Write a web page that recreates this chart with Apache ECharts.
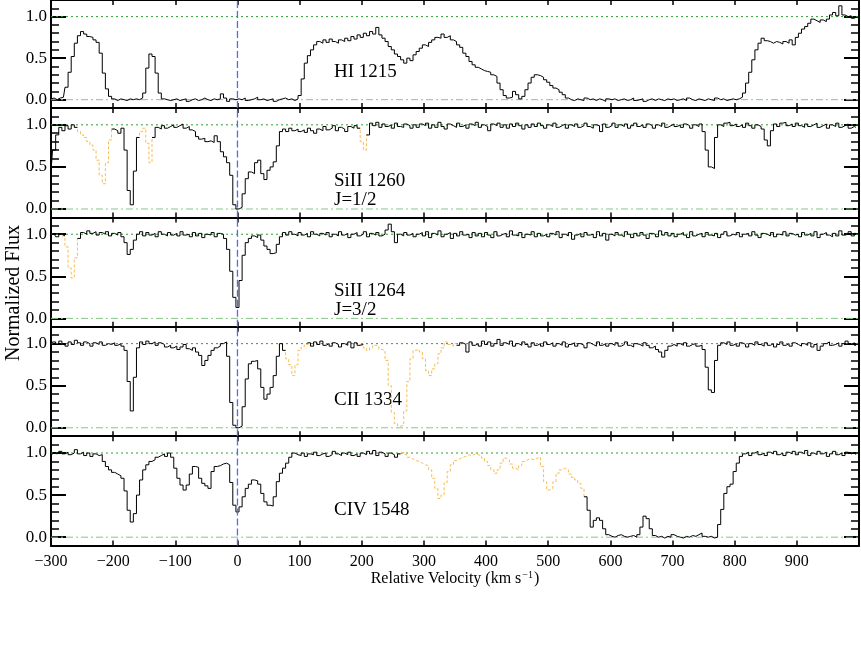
<!DOCTYPE html>
<html>
<head>
<meta charset="utf-8">
<script src="https://cdn.jsdelivr.net/npm/echarts@6/dist/echarts.min.js"></script>
<style>
  html, body { margin: 0; padding: 0; background: #fff; }
  #chart { width: 861px; height: 654px; }
</style>
</head>
<body>
<div id="chart"></div>
<script>
// velocity grid, km/s (5 km/s bins from -300)
const vel = []
for (let v = -300; v < 1000; v += 5) vel.push(v)

const yMajor = [0, 0.5, 1]
const yMinor = [-0.1, 0, 0.1, 0.2, 0.3, 0.4, 0.5, 0.6, 0.7, 0.8, 0.9, 1, 1.1, 1.2]

const panelNames = ['HI 1215', 'SiII 1260\nJ=1/2', 'SiII 1264\nJ=3/2', 'CII 1334', 'CIV 1548']

const fluxHI = [
  0.01, 0.02, 0.00, 0.02, 0.03, 0.15, 0.33, 0.52, 0.68, 0.77, 0.82, 0.79, 0.76, 0.75, 0.72, 0.69, 0.56, 0.32, 0.13, 0.04,
  0.01, -0.01, 0.01, 0.00, -0.01, 0.01, 0.00, 0.01, 0.00, 0.02, 0.08, 0.38, 0.55, 0.52, 0.32, 0.08, 0.01, 0.00, -0.01, 0.00,
  0.01, -0.01, 0.00, 0.01, -0.02, 0.00, 0.01, -0.01, 0.00, 0.02, 0.00, -0.01, 0.01, 0.00, 0.01, 0.07, 0.02, -0.02, 0.01, 0.00,
  0.01, 0.00, 0.02, -0.01, 0.00, 0.01, 0.03, 0.00, 0.01, -0.01, 0.00, 0.01, -0.02, 0.00, 0.01, 0.02, 0.00, 0.01, -0.01, 0.01,
  0.05, 0.25, 0.44, 0.53, 0.60, 0.66, 0.70, 0.68, 0.72, 0.69, 0.73, 0.70, 0.68, 0.72, 0.70, 0.74, 0.71, 0.76, 0.73, 0.78,
  0.75, 0.80, 0.77, 0.82, 0.79, 0.87, 0.78, 0.74, 0.70, 0.64, 0.60, 0.55, 0.52, 0.48, 0.44, 0.50, 0.47, 0.54, 0.58, 0.62,
  0.66, 0.64, 0.69, 0.72, 0.75, 0.74, 0.79, 0.75, 0.77, 0.72, 0.70, 0.66, 0.63, 0.56, 0.52, 0.46, 0.42, 0.39, 0.37, 0.35,
  0.34, 0.33, 0.30, 0.28, 0.20, 0.12, 0.05, 0.02, 0.03, 0.10, 0.06, 0.01, 0.04, 0.12, 0.20, 0.27, 0.30, 0.29, 0.27, 0.24,
  0.21, 0.17, 0.14, 0.12, 0.09, 0.06, 0.02, 0.00, -0.01, 0.01, 0.00, -0.01, 0.02, 0.00, 0.01, -0.01, 0.01, 0.00, -0.02, 0.01,
  0.00, 0.01, -0.01, 0.00, 0.01, -0.01, 0.00, 0.02, -0.01, 0.00, 0.01, -0.02, 0.00, 0.01, -0.01, 0.01, 0.00, -0.01, 0.01, 0.00,
  0.01, -0.01, 0.00, 0.01, -0.01, 0.02, 0.00, -0.01, 0.01, 0.00, -0.01, 0.01, 0.00, -0.01, 0.02, 0.00, 0.01, -0.01, 0.00, 0.01,
  0.00, 0.01, 0.03, 0.08, 0.20, 0.33, 0.48, 0.60, 0.68, 0.74, 0.71, 0.70, 0.68, 0.70, 0.69, 0.67, 0.70, 0.68, 0.72, 0.66,
  0.75, 0.80, 0.85, 0.88, 0.92, 0.97, 0.95, 0.93, 0.96, 0.94, 0.97, 1.02, 1.05, 1.01, 1.13, 1.02, 1.00, 1.01, 0.98, 0.99
]

const fluxSi1260 = [
  0.45, 0.70, 0.88, 0.97, 0.93, 0.99, 0.95, 1.00, 0.97, 0.92, 0.88, 0.85, 0.80, 0.76, 0.70, 0.58, 0.40, 0.30, 0.55, 0.82,
  0.95, 0.93, 0.90, 0.96, 0.70, 0.22, 0.05, 0.45, 0.85, 0.92, 0.96, 0.78, 0.55, 0.85, 0.97, 0.95, 0.99, 0.96, 0.98, 1.00,
  0.97, 0.99, 1.01, 0.96, 0.98, 0.94, 0.92, 0.86, 0.83, 0.84, 0.80, 0.81, 0.79, 0.87, 0.80, 0.68, 0.62, 0.55, 0.40, 0.05,
  0.00, 0.02, 0.18, 0.36, 0.44, 0.42, 0.55, 0.58, 0.42, 0.35, 0.46, 0.50, 0.56, 0.75, 0.92, 0.95, 0.92, 0.96, 0.93, 0.95,
  0.92, 0.94, 0.91, 0.96, 0.93, 0.90, 0.95, 0.93, 0.98, 0.94, 0.96, 0.99, 0.93, 0.97, 0.95, 0.92, 0.98, 0.96, 0.99, 0.96,
  0.80, 0.70, 0.88, 1.02, 0.99, 1.03, 0.97, 1.01, 0.98, 1.00, 0.96, 1.02, 0.98, 0.97, 1.01, 0.99, 0.96, 1.00, 0.97, 1.01,
  0.99, 1.02, 0.96, 1.00, 0.97, 1.03, 0.98, 0.95, 1.01, 0.99, 0.97, 1.02, 0.98, 1.00, 0.96, 1.01, 0.99, 1.03, 0.97, 1.00,
  0.98, 0.93, 1.01, 0.99, 1.02, 0.97, 1.00, 0.96, 1.01, 0.98, 1.02, 0.99, 0.95, 1.00, 0.97, 1.01, 0.98, 1.02, 0.99, 0.96,
  1.00, 0.98, 1.02, 0.97, 0.99, 1.01, 0.96, 1.00, 0.98, 1.01, 0.97, 0.99, 1.02, 0.98, 0.96, 1.00, 0.99, 0.92, 1.01, 0.97,
  0.99, 1.02, 0.97, 1.00, 0.98, 1.01, 0.96, 0.99, 1.02, 0.98, 1.00, 0.97, 1.01, 0.99, 0.96, 1.00, 0.98, 1.02, 0.97, 0.99,
  1.01, 0.98, 1.00, 0.97, 1.01, 0.99, 0.96, 1.00, 0.98, 1.01, 0.92, 0.70, 0.50, 0.48, 0.85, 1.00, 0.98, 1.02, 1.03, 0.99,
  1.01, 0.98, 1.00, 0.97, 1.02, 0.99, 0.96, 1.00, 0.98, 0.95, 0.82, 0.75, 0.93, 1.01, 0.98, 1.02, 1.03, 0.99, 1.01, 0.98,
  1.02, 0.99, 0.97, 1.01, 0.98, 1.00, 1.02, 0.97, 0.99, 1.01, 0.96, 1.00, 0.98, 1.02, 0.97, 0.99, 1.01, 0.96, 0.98, 0.97
]

const fluxSi1264 = [
  0.99, 1.01, 0.97, 1.00, 0.98, 0.85, 0.60, 0.48, 0.72, 0.95, 1.02, 1.00, 1.04, 1.01, 1.03, 0.99, 1.02, 1.00, 1.03, 0.98,
  1.01, 0.99, 1.02, 0.97, 0.90, 0.76, 0.82, 0.93, 1.00, 1.03, 0.98, 1.02, 0.99, 1.01, 0.97, 1.03, 1.00, 0.98, 1.02, 0.99,
  1.01, 0.98, 1.03, 0.99, 1.00, 0.97, 1.02, 0.98, 1.01, 0.96, 1.00, 0.99, 1.02, 0.97, 1.01, 1.00, 0.95, 0.82, 0.56, 0.25,
  0.13, 0.45, 0.75, 0.90, 0.95, 0.98, 0.96, 0.99, 0.93, 0.86, 0.82, 0.77, 0.78, 0.88, 0.97, 1.02, 0.99, 1.03, 1.00, 0.98,
  1.02, 0.99, 1.01, 0.97, 1.03, 1.00, 0.98, 1.01, 0.99, 1.02, 0.97, 1.00, 0.98, 1.03, 0.99, 1.01, 0.96, 1.00, 1.02, 0.98,
  1.00, 1.03, 0.97, 1.01, 0.99, 1.02, 0.98, 1.00, 1.05, 1.12, 1.03, 0.90, 1.00, 0.98, 1.02, 0.99, 1.01, 0.97, 1.00, 1.02,
  0.98, 1.03, 0.96, 1.01, 0.99, 1.04, 0.97, 1.00, 1.02, 0.95, 1.01, 0.98, 1.03, 0.99, 1.00, 0.96, 1.02, 0.98, 1.01, 0.97,
  1.02, 0.99, 0.96, 1.03, 0.98, 1.00, 1.01, 0.97, 1.04, 0.99, 0.98, 1.02, 0.96, 1.00, 0.99, 1.03, 0.97, 1.01, 0.98, 1.00,
  0.97, 1.01, 0.99, 1.03, 0.96, 1.00, 0.98, 1.02, 0.94, 0.99, 1.01, 0.97, 1.02, 0.99, 1.00, 0.96, 1.03, 0.98, 1.01, 0.93,
  1.00, 0.98, 1.02, 0.99, 0.97, 1.03, 1.00, 0.96, 1.01, 0.98, 1.02, 0.99, 0.95, 1.01, 1.00, 0.97, 1.04, 0.99, 1.02, 0.98,
  1.01, 0.97, 1.00, 1.02, 0.99, 0.96, 1.03, 0.98, 1.00, 1.01, 0.97, 1.02, 0.99, 0.98, 1.01, 0.96, 1.00, 1.03, 0.98, 1.00,
  0.99, 1.02, 0.97, 1.00, 1.01, 0.98, 1.03, 0.99, 0.96, 1.01, 1.00, 0.98, 1.02, 0.97, 1.00, 0.99, 1.03, 0.98, 1.01, 0.99,
  1.00, 0.97, 1.02, 0.99, 1.01, 0.98, 1.03, 0.96, 1.00, 1.02, 0.99, 0.97, 1.01, 0.98, 1.04, 0.99, 1.00, 1.03, 0.98, 1.01
]

const fluxC1334 = [
  0.98, 1.02, 0.99, 1.03, 1.00, 0.97, 1.02, 0.99, 1.04, 1.01, 0.98, 1.02, 1.00, 0.97, 1.01, 0.99, 1.02, 0.98, 1.00, 0.99,
  1.01, 0.98, 1.00, 0.97, 0.92, 0.55, 0.20, 0.60, 0.95, 1.02, 0.99, 1.03, 1.00, 1.02, 0.98, 1.01, 0.99, 0.96, 0.98, 0.95,
  0.97, 0.93, 0.96, 0.99, 0.94, 0.92, 0.95, 0.90, 0.86, 0.74, 0.80, 0.86, 0.92, 0.95, 0.97, 1.00, 1.02, 0.85, 0.30, 0.03,
  0.00, 0.02, 0.25, 0.58, 0.76, 0.79, 0.80, 0.70, 0.48, 0.34, 0.40, 0.48, 0.62, 0.85, 1.00, 0.92, 0.82, 0.75, 0.62, 0.75,
  0.92, 0.96, 0.99, 1.01, 0.97, 1.02, 0.99, 1.03, 0.98, 1.00, 0.97, 1.01, 0.99, 0.96, 1.00, 0.98, 1.02, 0.95, 1.01, 0.98,
  0.99, 0.95, 0.92, 0.95, 0.98, 0.97, 0.93, 0.92, 0.80, 0.50, 0.18, 0.05, 0.02, 0.03, 0.20, 0.55, 0.82, 0.92, 0.93, 0.90,
  0.82, 0.68, 0.62, 0.70, 0.76, 0.88, 0.95, 1.02, 0.99, 0.97, 1.00, 0.98, 1.01, 0.99, 0.90, 1.02, 0.98, 1.00, 0.97, 1.03,
  0.99, 1.02, 0.97, 1.00, 1.05, 0.98, 1.01, 0.99, 1.03, 0.97, 1.00, 0.98, 1.02, 0.99, 0.96, 1.01, 0.98, 1.00, 0.97, 1.02,
  0.99, 1.01, 0.97, 1.00, 0.98, 1.02, 0.96, 0.99, 1.01, 0.97, 1.00, 0.98, 0.95, 1.01, 0.99, 0.97, 1.02, 0.98, 1.00, 0.97,
  1.00, 0.98, 1.01, 0.97, 0.99, 1.02, 0.98, 0.96, 1.00, 0.99, 0.97, 1.01, 0.98, 0.95, 0.97, 0.93, 0.90, 0.84, 0.92, 0.97,
  0.99, 0.97, 1.00, 0.98, 1.01, 0.97, 0.99, 1.00, 0.97, 0.98, 0.93, 0.72, 0.45, 0.42, 0.80, 0.98, 1.01, 0.99, 1.02, 0.98,
  1.00, 0.97, 1.01, 0.99, 0.96, 1.00, 0.98, 1.02, 0.99, 0.97, 1.01, 0.98, 1.00, 0.96, 0.99, 1.02, 0.98, 1.00, 0.97, 1.01,
  0.99, 0.97, 1.00, 0.98, 1.01, 0.96, 0.99, 0.92, 0.97, 1.00, 1.02, 0.98, 0.99, 1.01, 0.97, 1.00, 1.03, 0.99, 1.01, 0.98
]

const fluxC1548 = [
  0.98, 1.00, 0.99, 1.02, 0.99, 1.01, 0.98, 1.00, 1.04, 0.99, 1.01, 0.97, 1.00, 0.96, 0.99, 0.97, 0.98, 0.90, 0.84, 0.80,
  0.77, 0.75, 0.73, 0.70, 0.55, 0.32, 0.18, 0.28, 0.50, 0.68, 0.80, 0.86, 0.90, 0.92, 0.95, 0.97, 0.99, 0.96, 1.00, 0.95,
  0.82, 0.70, 0.62, 0.56, 0.62, 0.75, 0.84, 0.83, 0.70, 0.64, 0.61, 0.58, 0.78, 0.84, 0.85, 0.87, 0.88, 0.86, 0.65, 0.38,
  0.30, 0.36, 0.48, 0.58, 0.63, 0.68, 0.67, 0.63, 0.52, 0.42, 0.38, 0.37, 0.48, 0.66, 0.76, 0.82, 0.88, 0.95, 1.00, 0.98,
  0.97, 1.00, 0.96, 0.99, 0.98, 1.01, 0.97, 0.99, 1.00, 0.96, 0.98, 1.02, 0.99, 0.97, 1.00, 0.98, 1.01, 0.97, 0.99, 0.96,
  1.00, 0.98, 1.02, 0.99, 1.03, 0.97, 1.01, 0.99, 0.96, 1.00, 0.98, 0.95, 0.99, 1.01, 0.98, 0.95, 0.93, 0.91, 0.90, 0.88,
  0.86, 0.85, 0.80, 0.70, 0.58, 0.46, 0.50, 0.65, 0.78, 0.86, 0.91, 0.93, 0.95, 0.96, 0.98, 0.97, 0.99, 0.98, 0.97, 0.94,
  0.90, 0.85, 0.80, 0.76, 0.80, 0.88, 0.94, 0.92, 0.87, 0.82, 0.80, 0.85, 0.90, 0.92, 0.93, 0.92, 0.94, 0.95, 0.84, 0.66,
  0.56, 0.58, 0.66, 0.76, 0.80, 0.82, 0.80, 0.75, 0.71, 0.68, 0.64, 0.58, 0.48, 0.32, 0.12, 0.20, 0.23, 0.20, 0.10, 0.03,
  0.01, 0.00, 0.02, 0.03, 0.01, 0.00, 0.01, 0.02, 0.00, 0.03, 0.12, 0.25, 0.22, 0.10, 0.02, 0.00, 0.01, -0.01, 0.01, 0.00,
  0.03, 0.01, 0.00, -0.01, 0.01, 0.00, 0.02, 0.01, 0.03, 0.05, 0.01, 0.00, 0.01, -0.01, 0.00, 0.15, 0.33, 0.52, 0.60, 0.63,
  0.78, 0.88, 0.96, 0.99, 1.01, 0.97, 1.00, 1.02, 0.98, 1.00, 0.97, 1.01, 0.99, 1.02, 0.98, 1.00, 0.97, 1.01, 0.99, 1.02,
  0.98, 1.01, 0.99, 1.03, 0.97, 1.00, 0.98, 1.02, 0.99, 1.01, 0.96, 0.99, 1.02, 0.98, 1.00, 0.97, 1.01, 0.99, 1.00, 0.98
]

// blended stretches drawn dashed orange, [from, to] km/s
const blendHI = []
const blendSi1260 = [[-260, -200], [-160, -135], [195, 210]]
const blendSi1264 = [[-280, -255]]
const blendC1334 = [[75, 115], [200, 355]]
const blendC1548 = [[260, 560]]

const fluxes = [fluxHI, fluxSi1260, fluxSi1264, fluxC1334, fluxC1548]
const blends = [blendHI, blendSi1260, blendSi1264, blendC1334, blendC1548]

const SERIF = "'Liberation Serif', 'DejaVu Serif', serif"
const tops = [-1.4, 108, 217.4, 326.8, 436.2]
const panelH = 109.4

const grids = []
const xAxes = []
const yAxes = []
const series = []
const texts = []

// plain two-point line for continuum / zero level / systemic velocity
function guide (p, pts, color, type, z, width) {
  return {
    type: 'line', xAxisIndex: p * 2, yAxisIndex: p * 4, data: pts, z: z,
    showSymbol: false, symbol: 'none', silent: true,
    lineStyle: { color: color, type: type, width: width || 1 }
  }
}

fluxes.forEach((flux, p) => {
  grids.push({ left: 51, right: 2, top: tops[p], height: panelH })
  const last = p === fluxes.length - 1
  const xBase = {
    gridIndex: p, type: 'value', min: -300, max: 1000, interval: 100,
    axisLine: { show: true, onZero: false, lineStyle: { color: '#000', width: 2 } },
    axisTick: { show: true, inside: true, length: 5, lineStyle: { color: '#000', width: 1.5 } },
    splitLine: { show: false }
  }
  xAxes.push(Object.assign({}, xBase, {
    position: 'bottom',
    axisLabel: {
      show: last, margin: 8, color: '#000', fontFamily: SERIF, fontSize: 16,
      showMaxLabel: false,
      formatter: (v) => String(v).replace('-', '\u2212')
    },
    name: last ? 'Relative Velocity (km s{sup|\u22121})' : '',
    nameLocation: 'middle', nameGap: 24,
    nameTextStyle: {
      color: '#000', fontFamily: SERIF, fontSize: 16,
      rich: { sup: { fontSize: 10, fontFamily: SERIF, color: '#000', verticalAlign: 'top', padding: [0, 1, 0, 1] } }
    }
  }))
  xAxes.push(Object.assign({}, xBase, { position: 'top', axisLabel: { show: false } }))

  const yBase = {
    gridIndex: p, type: 'value', min: -0.1, max: 1.2,
    axisLine: { show: true, onZero: false, lineStyle: { color: '#000', width: 2 } },
    splitLine: { show: false }
  }
  // left: labelled major ticks, then unlabelled minor ticks; same on the right
  yAxes.push(Object.assign({}, yBase, {
    position: 'left',
    axisTick: { show: true, inside: true, length: 15, customValues: yMajor, lineStyle: { color: '#000', width: 2 } },
    axisLabel: {
      show: true, margin: 4, color: '#000', fontFamily: SERIF, fontSize: 17,
      customValues: yMajor, formatter: (v) => v.toFixed(1)
    }
  }))
  yAxes.push(Object.assign({}, yBase, {
    position: 'left',
    axisTick: { show: true, inside: true, length: 8, customValues: yMinor, lineStyle: { color: '#000', width: 1.5 } },
    axisLabel: { show: false }
  }))
  yAxes.push(Object.assign({}, yBase, {
    position: 'right',
    axisTick: { show: true, inside: true, length: 15, customValues: yMajor, lineStyle: { color: '#000', width: 2 } },
    axisLabel: { show: false }
  }))
  yAxes.push(Object.assign({}, yBase, {
    position: 'right',
    axisTick: { show: true, inside: true, length: 8, customValues: yMinor, lineStyle: { color: '#000', width: 1.5 } },
    axisLabel: { show: false }
  }))

  const inBlend = (v, strict) => blends[p].some(([a, b]) => strict ? (v > a && v < b) : (v >= a && v <= b))
  const black = vel.map((v, i) => [v, inBlend(v, true) ? null : flux[i]])
  const orange = vel.map((v, i) => [v, inBlend(v, false) ? flux[i] : null])

  series.push(guide(p, [[-300, 1], [1000, 1]], '#2e9e2e', [2, 3], 2))
  series.push(guide(p, [[-300, 0], [1000, 0]], '#86c886', [7, 3, 2, 3], 2))
  series.push({
    type: 'line', xAxisIndex: p * 2, yAxisIndex: p * 4, data: black,
    step: 'middle', showSymbol: false, symbol: 'none', z: 5,
    lineStyle: { color: '#000', width: 1 }
  })
  if (blends[p].length) {
    series.push({
      type: 'line', xAxisIndex: p * 2, yAxisIndex: p * 4, data: orange,
      step: 'middle', showSymbol: false, symbol: 'none', z: 4,
      lineStyle: { color: '#f7bd52', width: 1, type: [3, 2] }
    })
  }
  series.push(guide(p, [[0, -0.1], [0, 1.2]], '#5468ff', [7, 3], 6, 1.3))

  texts.push({
    type: 'text', left: 334, top: tops[p] + 64,
    style: { text: panelNames[p], fill: '#000', font: '19px ' + SERIF, lineHeight: 19 }
  })
})

texts.push({
  type: 'text', x: 14, y: 293, rotation: Math.PI / 2,
  style: {
    text: 'Normalized Flux', fill: '#000', font: '20px ' + SERIF,
    textAlign: 'center', textVerticalAlign: 'middle'
  }
})

const chart = echarts.init(document.getElementById('chart'), null, { renderer: 'canvas' })
chart.setOption({
  animation: false,
  backgroundColor: '#fff',
  grid: grids,
  xAxis: xAxes,
  yAxis: yAxes,
  series: series,
  graphic: texts
})
</script>
</body>
</html>
